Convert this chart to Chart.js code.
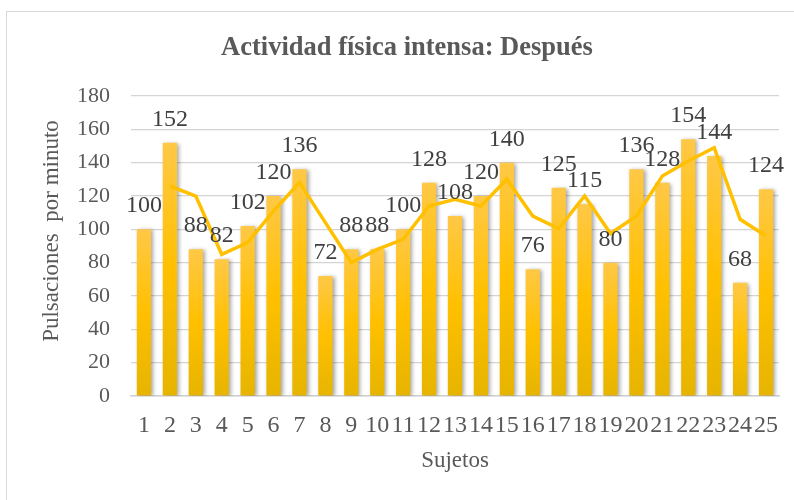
<!DOCTYPE html>
<html>
<head>
<meta charset="utf-8">
<script src="https://cdn.jsdelivr.net/npm/chart.js@4.4.1/dist/chart.umd.min.js"></script>
<style>
  html, body { margin: 0; padding: 0; background: #fff; }
  #frame {
    position: absolute; left: 6px; top: 11px;
    width: 800px; height: 500px;
    border: 1px solid #d9d9d9; box-sizing: border-box;
  }
  #wrap { position: absolute; left: 0; top: 0; width: 794px; height: 500px; }
</style>
</head>
<body>
<div id="frame"></div>
<div id="wrap"><canvas id="chart"></canvas></div>
<script>
// Pulsaciones por sujeto (barras) y media móvil de 2 periodos (línea)
const SUJETOS = ['1','2','3','4','5','6','7','8','9','10','11','12','13',
                 '14','15','16','17','18','19','20','21','22','23','24','25'];
const PULSACIONES = [100, 152, 88, 82, 102, 120, 136, 72, 88, 88, 100, 128, 108,
                     120, 140, 76, 125, 115, 80, 136, 128, 154, 144, 68, 124];
const TENDENCIA = [null, 126, 120, 85, 92, 111, 128, 104, 80, 88, 94, 114, 118,
                   114, 130, 108, 100.5, 120, 97.5, 108, 132, 141, 149, 106, 96];
const Y_TICKS = [0, 20, 40, 60, 80, 100, 120, 140, 160, 180];
const TITULO = 'Actividad física intensa: Después';
const Y_TITLE = 'Pulsaciones  por minuto';

const SERIF = '"Liberation Serif", "Times New Roman", serif';
const GRAY = '#595959';

// per-bar vertical gradient like Excel's fill
function barGradient(c) {
  const chart = c.chart;
  if (!chart.chartArea || !chart.scales.y || c.raw == null) return '#ffc000';
  const y = chart.scales.y;
  const top = y.getPixelForValue(c.raw);
  const bottom = y.getPixelForValue(0);
  const g = chart.ctx.createLinearGradient(0, top, 0, bottom);
  g.addColorStop(0, '#ffc846');
  g.addColorStop(0.5, '#ffc000');
  g.addColorStop(1, '#e6b400');
  return g;
}

// soft drop shadow under the bars
const barShadow = {
  id: 'barShadow',
  beforeDatasetDraw(chart, args) {
    if (args.index !== 0) return;
    const ctx = chart.ctx;
    ctx.save();
    ctx.shadowColor = 'rgba(0,0,0,0.35)';
    ctx.shadowBlur = 4;
    ctx.shadowOffsetX = 2;
    ctx.shadowOffsetY = 1;
  },
  afterDatasetDraw(chart, args) {
    if (args.index !== 0) return;
    chart.ctx.restore();
  }
};

// value labels above bars, chart title and y axis title (Excel places them off-centre)
const textLayer = {
  id: 'textLayer',
  afterDatasetsDraw(chart) {
    const ctx = chart.ctx;
    const area = chart.chartArea;
    const meta = chart.getDatasetMeta(0);

    ctx.save();
    ctx.font = '24px ' + SERIF;
    ctx.fillStyle = '#404040';
    ctx.textAlign = 'center';
    ctx.textBaseline = 'alphabetic';
    meta.data.forEach((bar, i) => {
      ctx.fillText(String(PULSACIONES[i]), bar.x, bar.y - 17);
    });

    ctx.font = 'bold 26.5px ' + SERIF;
    ctx.fillStyle = GRAY;
    ctx.textBaseline = 'middle';
    ctx.fillText(TITULO, 407, 48);
    ctx.restore();

    ctx.save();
    ctx.translate(52, (area.top + area.bottom) / 2 - 15);
    ctx.rotate(-Math.PI / 2);
    ctx.font = '23px ' + SERIF;
    ctx.fillStyle = GRAY;
    ctx.textAlign = 'center';
    ctx.textBaseline = 'middle';
    ctx.fillText(Y_TITLE, 0, 0);
    ctx.restore();
  }
};

new Chart(document.getElementById('chart'), {
  data: {
    labels: SUJETOS,
    datasets: [
      {
        type: 'bar',
        label: 'Pulsaciones',
        data: PULSACIONES,
        backgroundColor: barGradient,
        borderWidth: 0,
        barPercentage: 0.55,
        categoryPercentage: 1,
        order: 1,
      },
      {
        type: 'line',
        label: '2 per. media móvil',
        data: TENDENCIA,
        borderColor: '#ffc000',
        borderWidth: 3.5,
        pointRadius: 0,
        tension: 0,
        fill: false,
        spanGaps: false,
        order: 0,
      }
    ]
  },
  options: {
    responsive: true,
    maintainAspectRatio: false,
    animation: false,
    layout: { padding: { top: 96, right: 15, bottom: 0, left: 0 } },
    scales: {
      x: {
        grid: { display: false, drawTicks: false },
        border: { display: true, color: '#d0d0d0', width: 1.5 },
        ticks: {
          color: GRAY,
          font: { family: SERIF, size: 24 },
          autoSkip: false,
          maxRotation: 0,
          minRotation: 0,
          padding: 15,
        },
        title: {
          display: true,
          text: 'Sujetos',
          color: GRAY,
          font: { family: SERIF, size: 23 },
          padding: { top: 0, bottom: 25 },
        },
        afterFit(scale) { scale.height = 104; }
      },
      y: {
        min: 0,
        max: 180,
        afterBuildTicks(scale) { scale.ticks = Y_TICKS.map(v => ({ value: v })); },
        grid: { color: '#d4d4d4', lineWidth: 1.2, drawTicks: false },
        border: { display: false },
        ticks: {
          color: GRAY,
          font: { family: SERIF, size: 22 },
          padding: 21,
        },
        afterFit(scale) { scale.width = 131; }
      }
    },
    plugins: {
      legend: { display: false },
      tooltip: { enabled: false },
      title: { display: false }
    }
  },
  plugins: [barShadow, textLayer]
});
</script>
</body>
</html>
